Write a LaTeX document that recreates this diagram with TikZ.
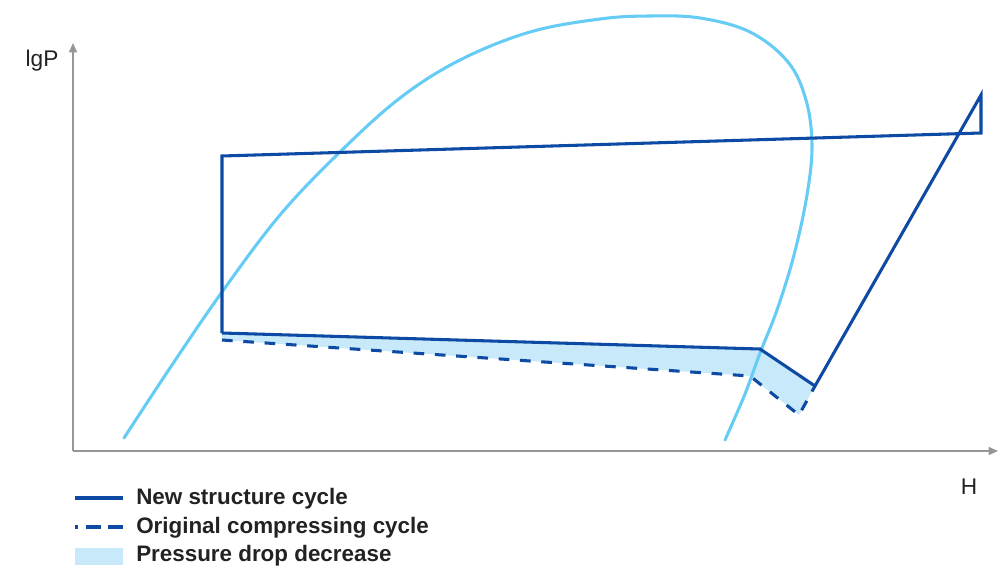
\documentclass[tikz,border=0pt]{standalone}
\usepackage{fontspec}
\setmainfont{Liberation Sans}
\usetikzlibrary{arrows.meta}
\definecolor{darkblue}{RGB}{13,74,163}
\definecolor{satblue}{RGB}{102,204,245}
\definecolor{fillblue}{RGB}{200,233,250}
\definecolor{axisgrey}{RGB}{150,150,150}
\definecolor{txt}{RGB}{34,34,34}
\tikzset{
  axis/.style={draw=axisgrey, line width=1.2pt, -{Triangle[length=7pt,width=6pt]}},
  newcyc/.style={draw=darkblue, line width=2.3pt, line join=miter},
  oldcyc/.style={draw=darkblue, line width=2.3pt, dash pattern=on 8pt off 8pt},
  satcurve/.style={draw=satblue, line width=2.3pt, line cap=round},
  dropfill/.style={fill=fillblue, draw=none},
  axlabel/.style={text=txt, font=\fontsize{17}{19}\selectfont, inner sep=0pt},
  legtext/.style={text=txt, font=\bfseries\fontsize{16.8}{19}\selectfont, inner sep=0pt, anchor=west},
}
\begin{document}
\begin{tikzpicture}[x=0.75pt, y=-0.75pt]
\useasboundingbox (0,0) rectangle (1000,588);
% coordinates
\coordinate (A) at (222,156);
\coordinate (B) at (222,333);
\coordinate (C) at (760,349);
\coordinate (D) at (815,386);
\coordinate (E) at (981,95);
\coordinate (F) at (981,133);
\coordinate (B2) at (222,340);
\coordinate (C2) at (750,376);
\coordinate (D2) at (799,415);
% fill
\path[dropfill] (B) -- (C) -- (D) -- (D2) -- (C2) -- (B2) -- cycle;
% axes
\coordinate (O) at (73,451);
\coordinate (Ytip) at (73,43);
\coordinate (Xtip) at (998,451);
\draw[axis] (O) -- (Ytip);
\draw[axis] (O) -- (Xtip);
\node[axlabel] (ylab) at (42,61) {lgP};
\node[axlabel] (xlab) at (969,487) {H};
% saturation curve
\draw[satcurve] plot[smooth, tension=0.6] coordinates {(124,438) (170,368) (222,292) (280,215) (340,152) (400,98) (460,60) (530,32) (600,19) (650,16) (700,18) (750,32) (788,62) (806,100) (812,145) (807,195) (794,255) (777,310) (760,353) (745,394) (725,440)};
% original cycle (dashed)
\draw[oldcyc] (B2) -- (C2) -- (D2) -- (D);
% new cycle
\draw[newcyc] (B) -- (C) -- (D) -- (E) -- (F) -- (A) -- (B);
% legend
\coordinate (L1a) at (75,498); \coordinate (L1b) at (123,498);
\coordinate (L2a) at (75,527); \coordinate (L2b) at (123,527);
\draw[newcyc] (L1a) -- (L1b);
\draw[darkblue, line width=2.3pt, dash pattern=on 2.5pt off 6pt on 11pt off 5.5pt on 11pt] (L2a) -- (L2b);
\path[dropfill] (75,548) rectangle (123,565);
\node[legtext] (t1) at (136,499) {New structure cycle};
\node[legtext] (t2) at (136,528) {Original compressing cycle};
\node[legtext] (t3) at (136,556) {Pressure drop decrease};
\end{tikzpicture}
\end{document}
